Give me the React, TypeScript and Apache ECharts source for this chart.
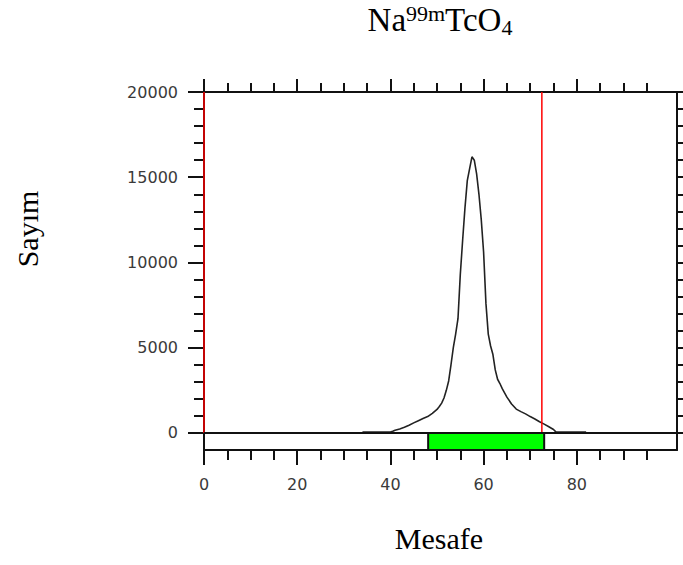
import React, { useEffect, useRef } from "react";
import * as echarts from "echarts";

// Distance (Mesafe) and count (Sayım)
const distance = [34, 36, 38, 40, 40.5, 41, 42, 43, 44, 45, 46, 47, 48, 49, 50, 50.5, 51, 51.5, 52, 52.5, 53, 53.5, 54, 54.5, 55, 55.5, 56, 56.5, 57, 57.5, 58, 58.5, 59, 59.5, 60, 60.5, 61, 61.5, 62, 62.5, 63, 63.5, 64, 65, 66, 67, 68, 69, 70, 71, 72, 73, 74, 75, 75.5, 78, 82];
const counts = [60, 60, 60, 60, 100, 160, 230, 330, 450, 590, 720, 850, 960, 1150, 1380, 1550, 1750, 2050, 2500, 3050, 4000, 5000, 5800, 6700, 9300, 11300, 13200, 14800, 15500, 16200, 16000, 15200, 14000, 12500, 10600, 7600, 5800, 5100, 4600, 3700, 3150, 2900, 2600, 2100, 1700, 1400, 1250, 1120, 960, 820, 660, 520, 360, 200, 60, 60, 60];

const xRange = [0, 101.5];
const yRange = [-1000, 20000];
const xMajorTicks = [0, 20, 40, 60, 80];
const xMinorTicks = [5, 10, 15, 25, 30, 35, 45, 50, 55, 65, 70, 75, 85, 90, 95];
const yMajorTicks = [0, 5000, 10000, 15000, 20000];
const yMinorTicks = [1000, 2000, 3000, 4000, 6000, 7000, 8000, 9000, 11000, 12000, 13000, 14000, 16000, 17000, 18000, 19000];
const regionBand = [48.1, 73.0];
const markerPositions = [0, 72.5];

const titleMain1 = "Na";
const titleSup = "99m";
const titleMain2 = "TcO";
const titleSub = "4";
const xName = "Mesafe";
const yName = "Sayım";

const FRAME = "#111";
const LABEL_FONT = "DejaVu Sans";
const SERIF = "Liberation Serif";

export default function App() {
  const ref = useRef<HTMLDivElement>(null);
  useEffect(() => {
    document.body.style.margin = "0";
    if (!ref.current) return;
    const chart = echarts.init(ref.current, null, { renderer: "svg" });
    const gridBox = { left: 204, right: 6, top: 92, bottom: 115 };
    const lineStyle = { color: FRAME, width: 2 };
    const baseAxis = {
      type: "value" as const,
      splitLine: { show: false },
      axisLine: { show: true, onZero: false, lineStyle },
    };
    const label = {
      fontFamily: LABEL_FONT,
      fontSize: 16,
      color: "#3a3a3a",
      margin: 26,
      formatter: (v: number) => String(v),
    };
    chart.setOption({
      animation: false,
      backgroundColor: "#fff",
      grid: [gridBox, gridBox],
      xAxis: [
        {
          ...baseAxis, gridIndex: 0, position: "bottom", min: xRange[0], max: xRange[1],
          axisTick: { show: true, customValues: xMajorTicks, length: 15, lineStyle },
          axisLabel: { ...label, customValues: xMajorTicks },
        },
        {
          ...baseAxis, gridIndex: 0, position: "top", min: xRange[0], max: xRange[1],
          axisTick: { show: true, customValues: xMajorTicks, length: 13, lineStyle },
          axisLabel: { show: false },
        },
        {
          ...baseAxis, gridIndex: 1, position: "bottom", min: xRange[0], max: xRange[1],
          axisLine: { show: false, onZero: false },
          axisTick: { show: true, customValues: xMinorTicks, length: 10, lineStyle },
          axisLabel: { show: false },
        },
        {
          ...baseAxis, gridIndex: 1, position: "top", min: xRange[0], max: xRange[1],
          axisLine: { show: false, onZero: false },
          axisTick: { show: true, customValues: xMinorTicks, length: 9, lineStyle },
          axisLabel: { show: false },
        },
      ],
      yAxis: [
        {
          ...baseAxis, gridIndex: 0, position: "left", min: yRange[0], max: yRange[1],
          axisTick: { show: true, customValues: yMajorTicks, length: 16, lineStyle },
          axisLabel: { ...label, customValues: yMajorTicks },
        },
        {
          ...baseAxis, gridIndex: 0, position: "right", min: yRange[0], max: yRange[1],
          axisTick: { show: true, customValues: yMajorTicks, length: 15, lineStyle },
          axisLabel: { show: false },
        },
        {
          ...baseAxis, gridIndex: 1, position: "left", min: yRange[0], max: yRange[1],
          axisLine: { show: false, onZero: false },
          axisTick: { show: true, customValues: yMinorTicks, length: 10, lineStyle },
          axisLabel: { show: false },
        },
        {
          ...baseAxis, gridIndex: 1, position: "right", min: yRange[0], max: yRange[1],
          axisLine: { show: false, onZero: false },
          axisTick: { show: true, customValues: yMinorTicks, length: 10, lineStyle },
          axisLabel: { show: false },
        },
      ],
      series: [
        {
          type: "line",
          xAxisIndex: 0,
          yAxisIndex: 0,
          data: distance.map((d, i) => [d, counts[i]]),
          showSymbol: false,
          lineStyle: { color: "#222", width: 1.6 },
          z: 3,
          markLine: {
            silent: true,
            symbol: ["none", "none"],
            label: { show: false },
            lineStyle: { color: FRAME, width: 2, type: "solid" },
            data: [{ yAxis: 0 }],
          },
          markArea: {
            silent: true,
            itemStyle: { color: "#00ff00", borderColor: FRAME, borderWidth: 2 },
            data: [[{ xAxis: regionBand[0], yAxis: yRange[0] }, { xAxis: regionBand[1], yAxis: 0 }]],
          },
        },
        ...markerPositions.map((p) => ({
          type: "line",
          xAxisIndex: 0,
          yAxisIndex: 0,
          data: [[p, 0], [p, yRange[1]]],
          showSymbol: false,
          clip: false,
          lineStyle: { color: "#ff0000", width: 1.5 },
          z: 4,
        })),
      ],
      graphic: [
        {
          type: "text",
          x: 440,
          y: 20,
          style: {
            text: `{m|${titleMain1}}{sup|${titleSup}}{m|${titleMain2}}{sub|${titleSub}}`,
            align: "center",
            verticalAlign: "middle",
            fill: "#000",
            rich: {
              m: { fontFamily: SERIF, fontSize: 33, lineHeight: 36, fill: "#000" },
              sup: { fontFamily: SERIF, fontSize: 22, lineHeight: 36, fill: "#000", verticalAlign: "top", padding: [0, 0, 11, 0] },
              sub: { fontFamily: SERIF, fontSize: 22, lineHeight: 36, fill: "#000", verticalAlign: "bottom", padding: [8, 0, 0, 0] },
            },
          },
        },
        {
          type: "text",
          x: 439,
          y: 538,
          style: {
            text: xName,
            align: "center",
            verticalAlign: "middle",
            fontFamily: SERIF,
            fontSize: 30,
            fill: "#000",
          },
        },
        {
          type: "text",
          x: 27,
          y: 229,
          rotation: Math.PI / 2,
          style: {
            text: yName,
            align: "center",
            verticalAlign: "middle",
            fontFamily: SERIF,
            fontSize: 30,
            fill: "#000",
          },
        },
      ],
    });
    return () => chart.dispose();
  }, []);
  return <div ref={ref} style={{ width: 683, height: 565 }} />;
}
